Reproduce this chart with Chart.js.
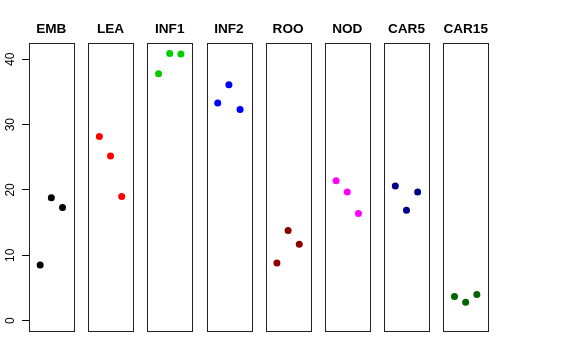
<!DOCTYPE html>
<html lang="en">
<head>
  <meta charset="UTF-8" />
  <title>Strip panels</title>
  <script src="https://cdn.jsdelivr.net/npm/chart.js"></script>
  <style>
    body { margin: 0; background: #fff; }
    canvas { display: block; }
  </style>
</head>
<body>
  <canvas id="chart" width="576" height="360"></canvas>

  <script>
    // data
    const groups = ['EMB', 'LEA', 'INF1', 'INF2', 'ROO', 'NOD', 'CAR5', 'CAR15'];
    const EMB   = [8.5, 18.8, 17.3];
    const LEA   = [28.2, 25.2, 19.0];
    const INF1  = [37.8, 40.9, 40.8];
    const INF2  = [33.3, 36.1, 32.3];
    const ROO   = [8.8, 13.8, 11.7];
    const NOD   = [21.4, 19.7, 16.4];
    const CAR5  = [20.6, 16.9, 19.7];
    const CAR15 = [3.7, 2.8, 4.0];
    const yTicks = [0, 10, 20, 30, 40];

    const values = [EMB, LEA, INF1, INF2, ROO, NOD, CAR5, CAR15];
    const colors = ['#000000', '#ff0000', '#00cd00', '#0000ff', '#8b0000', '#ff00ff', '#00008b', '#006400'];

    const gap = 5.3;     // distance between panel starts, in x units
    const yMin = -1.6, yMax = 42.5;

    const datasets = values.map((vals, i) => ({
      label: groups[i],
      data: vals.map((v, j) => ({ x: i * gap + j + 1, y: v })),
      backgroundColor: colors[i],
      borderWidth: 0,
      pointRadius: 3.5,
      pointHoverRadius: 3.5
    }));

    // panel boxes + titles
    const panels = {
      id: 'panels',
      afterDatasetsDraw(chart) {
        const { ctx, scales: { x, y } } = chart;
        const t = y.getPixelForValue(yMax), b = y.getPixelForValue(yMin);
        ctx.save();
        ctx.strokeStyle = '#222';
        ctx.lineWidth = 1;
        ctx.fillStyle = '#000';
        ctx.font = 'bold 13.6px "Liberation Sans", Arial, sans-serif';
        ctx.textAlign = 'center';
        ctx.textBaseline = 'middle';
        groups.forEach((g, i) => {
          const l = x.getPixelForValue(i * gap);
          const r = x.getPixelForValue(i * gap + 4);
          ctx.strokeRect(Math.round(l) + 0.5, Math.round(t) + 0.5, Math.round(r - l), Math.round(b - t));
          ctx.fillText(g, (l + r) / 2, t - 13.5);
        });
        ctx.restore();
      }
    };

    new Chart(document.getElementById('chart'), {
      type: 'scatter',
      data: { datasets },
      options: {
        responsive: false,
        animation: false,
        devicePixelRatio: 1,
        layout: { padding: { top: 43, right: 88, bottom: 29, left: 0 } },
        plugins: {
          legend: { display: false },
          tooltip: { enabled: false }
        },
        scales: {
          x: {
            type: 'linear',
            display: false,
            min: 0,
            max: 7 * gap + 4
          },
          y: {
            type: 'linear',
            min: yMin,
            max: yMax,
            afterBuildTicks: s => { s.ticks = yTicks.map(v => ({ value: v })); },
            afterFit: s => { s.width = 29; },
            border: { display: false },
            grid: { drawOnChartArea: false, drawTicks: true, tickLength: 7, color: '#000' },
            ticks: {
              minRotation: 90,
              maxRotation: 90,
              crossAlign: 'center',
              padding: 5,
              color: '#000',
              font: { family: '"Liberation Sans", Arial, sans-serif', size: 12 }
            }
          }
        }
      },
      plugins: [panels]
    });
  </script>
</body>
</html>
